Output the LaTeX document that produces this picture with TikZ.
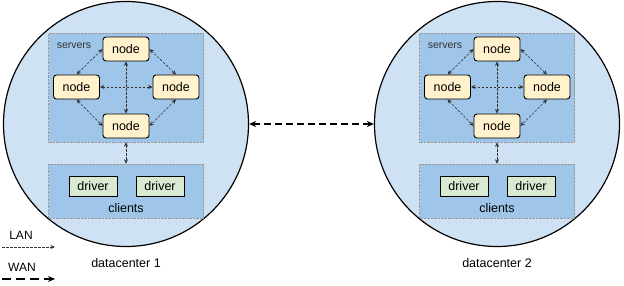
\documentclass[tikz,border=0pt]{standalone}
\usepackage{fontspec}
\setsansfont{Liberation Sans}
\usetikzlibrary{arrows.meta}

\definecolor{dcblue}{HTML}{CFE2F3}
\definecolor{grpblue}{HTML}{9FC5E8}
\definecolor{nodeyellow}{HTML}{FFF2CC}
\definecolor{drivergreen}{HTML}{D9EAD3}

\begin{document}
\begin{tikzpicture}[x=1pt, y=-1pt, font=\sffamily\fontsize{12.5}{14}\selectfont,
  dc/.style={circle, draw=black, line width=1.2pt, fill=dcblue, minimum size=245pt, inner sep=0pt},
  grp/.style={draw=gray!80, densely dotted, fill=grpblue, minimum width=155pt, inner sep=0pt},
  srvnode/.style={draw=black, line width=0.9pt, rounded corners=3pt, fill=nodeyellow,
    minimum width=46pt, minimum height=24pt, inner sep=0pt},
  drvnode/.style={draw=black, line width=0.9pt, fill=drivergreen,
    minimum width=48pt, minimum height=20pt, inner sep=0pt},
  lan/.style={dash pattern=on 2.5pt off 1.5pt, line width=0.6pt, black!80,
    {Stealth[length=4.5pt,width=4pt]}-{Stealth[length=4.5pt,width=4pt]}},
  wan/.style={dash pattern=on 7pt off 4pt, line width=1.3pt,
    {Stealth[length=7pt,width=6pt]}-{Stealth[length=7pt,width=6pt]}}]
  \useasboundingbox (0,0) rectangle (624,286);

  % one datacenter per circle, centred at x = \cx
  \foreach \i/\cx in {1/126, 2/497} {
    \node[dc] (dc\i) at (\cx,124) {};
    \node[grp, minimum height=109pt] (srv\i) at (\cx,87.5) {};
    \node[grp, minimum height=54pt] (cli\i) at (\cx,191) {};
    \node[font=\sffamily\fontsize{10.5}{12}\selectfont, black!80] (srvlabel\i) at (\cx-52,46) {servers};
    \node (clilabel\i) at (\cx,208) {clients};
    \node[srvnode] (top\i) at (\cx,49) {node};
    \node[srvnode] (left\i) at (\cx-49.5,87) {node};
    \node[srvnode] (right\i) at (\cx+50,87) {node};
    \node[srvnode] (bot\i) at (\cx,126) {node};
    \node[drvnode] (drvA\i) at (\cx-33,186) {driver};
    \node[drvnode] (drvB\i) at (\cx+34,186) {driver};
    \node (dclabel\i) at (\cx,263) {datacenter \i};
    \draw[lan] (top\i.west) -- (left\i.north);
    \draw[lan] (top\i.east) -- (right\i.north);
    \draw[lan] (left\i.south) -- (bot\i.west);
    \draw[lan] (right\i.south) -- (bot\i.east);
    \draw[lan] (left\i.east) -- (right\i.west);
    \draw[lan] (top\i.south) -- (bot\i.north);
    \draw[lan] (srv\i.south) -- (cli\i.north);
  }

  \draw[wan] (dc1.east) -- (dc2.west);

  % legend
  \node[font=\sffamily\fontsize{12}{14}\selectfont] (lanlabel) at (21,235) {LAN};
  \coordinate (lanA) at (2,247);
  \coordinate (lanB) at (55,247);
  \draw[lan, -{Stealth[length=4.5pt,width=4pt]}] (lanA) -- (lanB);
  \node[font=\sffamily\fontsize{12}{14}\selectfont] (wanlabel) at (22,267) {WAN};
  \coordinate (wanA) at (2,279);
  \coordinate (wanB) at (55,279);
  \draw[wan, dash pattern=on 9pt off 5pt, line width=1.1pt, -{Stealth[length=7pt,width=6pt]}] (wanA) -- (wanB);
\end{tikzpicture}
\end{document}
